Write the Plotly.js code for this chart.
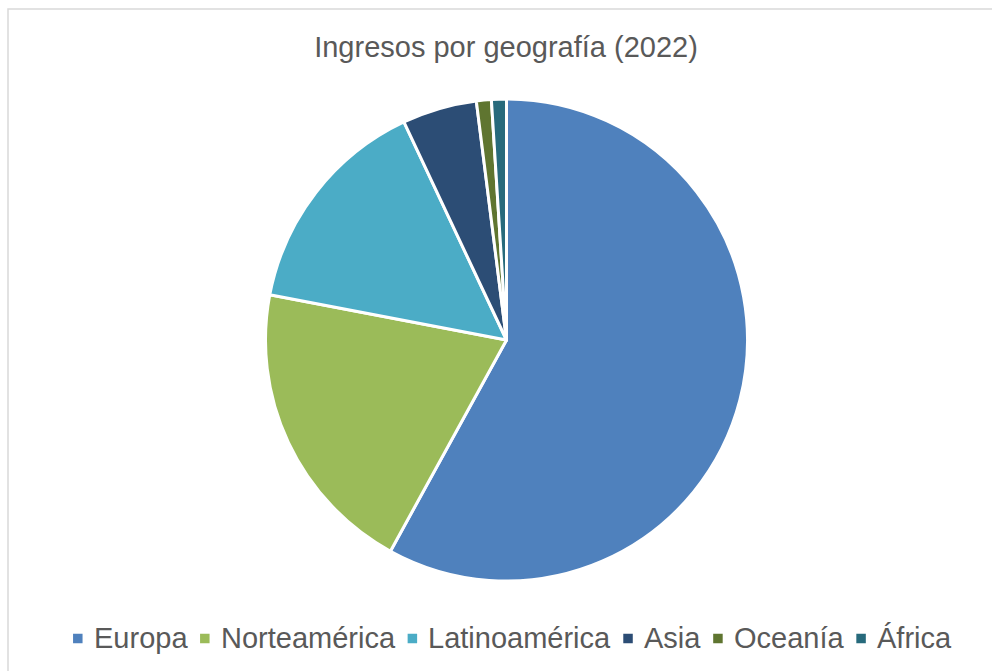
<!DOCTYPE html>
<html>
<head>
<meta charset="utf-8">
<script src="https://cdn.plot.ly/plotly-3.0.1.min.js"></script>
<style>html,body{margin:0;padding:0;background:#fff;}#chart{width:992px;height:671px;}</style>
</head>
<body>
<div id="chart"></div>
<script>
const categories = ["Europa", "Norteamérica", "Latinoamérica", "Asia", "Oceanía", "África"];
const values = [58, 20, 15, 5, 1, 1];
const colors = ["#4F81BD", "#9BBB59", "#4BACC6", "#2C4D75", "#5F7530", "#276A7C"];
const titleText = "Ingresos por geografía (2022)";

const W = 992, H = 671;
const FONT = "Liberation Sans, Arial, sans-serif";
const TXT = "#595959";

// Legend layout (manual, Excel style)
const legFont = 29;
const ctx = document.createElement("canvas").getContext("2d");
ctx.font = legFont + "px 'Liberation Sans'";
const mk = 9.5, gapMT = 11, gapTM = 13;
const widths = categories.map(c => ctx.measureText(c).width);
let total = 0;
widths.forEach((w, i) => { total += mk + gapMT + w + (i < widths.length - 1 ? gapTM : 0); });
let x = 512 - total / 2;
const legY = 638.5;
const shapes = [{
  type: "rect", xref: "paper", yref: "paper",
  x0: 8 / W, x1: 1.05, y0: -0.05, y1: 1 - 9 / H,
  line: {color: "#D9D9D9", width: 1.5}, fillcolor: "rgba(0,0,0,0)"
}];
const annotations = [];
categories.forEach((c, i) => {
  shapes.push({
    type: "rect", xref: "paper", yref: "paper",
    x0: x / W, x1: (x + mk) / W,
    y0: 1 - (legY + mk / 2) / H, y1: 1 - (legY - mk / 2) / H,
    line: {width: 0}, fillcolor: colors[i]
  });
  x += mk + gapMT;
  annotations.push({
    xref: "paper", yref: "paper", x: (x - 2) / W, y: 1 - (legY - 1) / H,
    xanchor: "left", yanchor: "middle", showarrow: false, text: c,
    font: {family: FONT, size: legFont, color: TXT}
  });
  x += widths[i] + gapTM;
});

const cx = 506.5, cy = 340, r = 241;
const data = [{
  type: "pie",
  labels: categories,
  values: values,
  sort: false,
  direction: "clockwise",
  rotation: 0,
  textinfo: "none",
  hoverinfo: "label+value+percent",
  marker: {colors: colors, line: {color: "#FFFFFF", width: 3}},
  domain: {x: [(cx - r) / W, (cx + r) / W], y: [1 - (cy + r) / H, 1 - (cy - r) / H]},
  showlegend: false
}];

const layout = {
  width: W, height: H,
  margin: {l: 0, r: 0, t: 0, b: 0},
  paper_bgcolor: "#FFFFFF",
  title: {
    text: titleText,
    font: {family: FONT, size: 29, color: TXT},
    x: 506 / W, xanchor: "center",
    y: 1 - 47 / H, yanchor: "middle", yref: "container"
  },
  showlegend: false,
  shapes: shapes,
  annotations: annotations
};

Plotly.newPlot("chart", data, layout, {displayModeBar: false, staticPlot: true});
</script>
</body>
</html>
